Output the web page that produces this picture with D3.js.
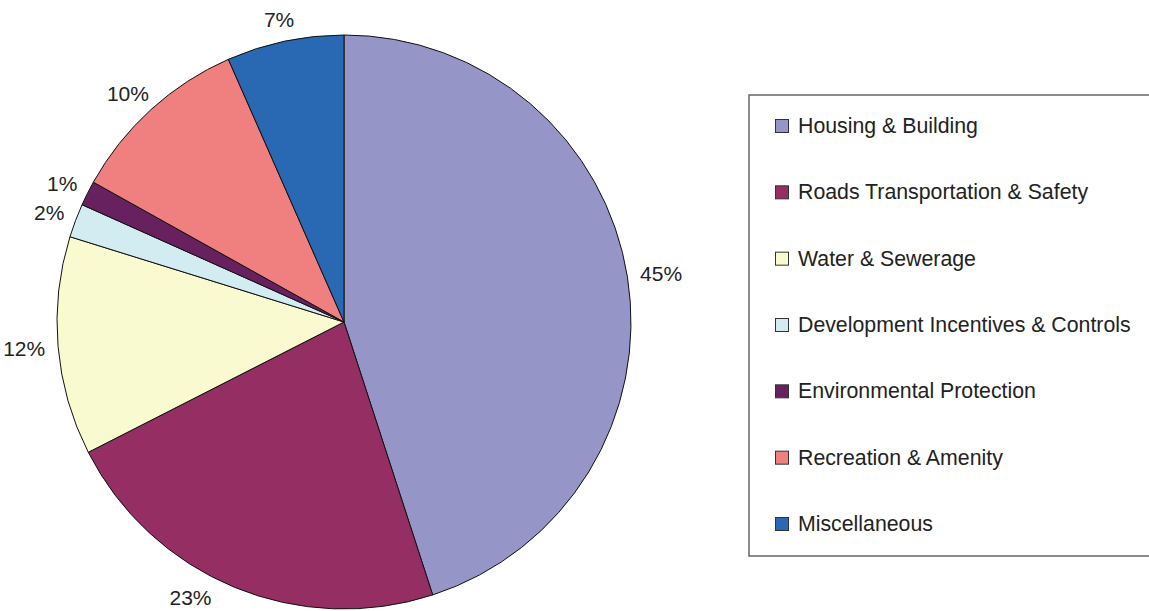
<!DOCTYPE html>
<html>
<head>
<meta charset="utf-8">
<script src="https://cdn.jsdelivr.net/npm/d3@7"></script>
<style>
  body { margin: 0; background: #fff; }
  svg text { font-family: "Liberation Sans", Arial, sans-serif; fill: #222; }
</style>
</head>
<body>
<div id="wrapper"></div>
<script>
// data (slice shares, in percent)
const categories = [
  "Housing & Building",
  "Roads Transportation & Safety",
  "Water & Sewerage",
  "Development Incentives & Controls",
  "Environmental Protection",
  "Recreation & Amenity",
  "Miscellaneous"
]
const shares = [45.0, 22.5, 12.3, 1.9, 1.4, 10.3, 6.6]
const labels = ["45%", "23%", "12%", "2%", "1%", "10%", "7%"]
const colors = ["#9595c8", "#952f63", "#fafad0", "#d3ecf2", "#66215e", "#f08080", "#2968b2"]

function drawPie() {
  const dimensions = { width: 1149, height: 611 }
  const center = { x: 344, y: 322 }
  const radius = 287

  const svg = d3.select("#wrapper")
    .append("svg")
      .attr("width", dimensions.width)
      .attr("height", dimensions.height)

  const data = categories.map((c, i) => ({
    name: c, value: shares[i], label: labels[i], color: colors[i]
  }))

  const pie = d3.pie()
    .value(d => d.value)
    .sort(null)

  const arcs = pie(data)

  const arc = d3.arc()
    .innerRadius(0)
    .outerRadius(radius)

  const bounds = svg.append("g")
    .attr("transform", `translate(${center.x},${center.y})`)

  bounds.selectAll("path")
    .data(arcs)
    .join("path")
      .attr("d", arc)
      .attr("fill", d => d.data.color)
      .attr("stroke", "#111")
      .attr("stroke-width", 1)

  // labels outside the pie, pushed out by half their box,
  // slid along the circle when they would fall off the bottom
  const labelR = 300
  const halfH = 9
  const maxY = dimensions.height - center.y - 14
  bounds.selectAll("text.lbl")
    .data(arcs)
    .join("text")
      .attr("class", "lbl")
      .attr("font-size", 21)
      .attr("text-anchor", "middle")
      .attr("dominant-baseline", "central")
      .text(d => d.data.label)
      .each(function(d) {
        const a = (d.startAngle + d.endAngle) / 2
        const w = this.getComputedTextLength()
        let x = Math.sin(a) * labelR + Math.sin(a) * w / 2
        let y = -Math.cos(a) * labelR - Math.cos(a) * halfH
        if (y > maxY) {
          y = maxY
          const ay = y + Math.cos(a) * halfH
          const ax = Math.sign(Math.sin(a)) * Math.sqrt(labelR * labelR - ay * ay)
          x = ax + Math.sin(a) * w
        }
        d3.select(this).attr("x", x).attr("y", y)
      })

  // legend
  const legend = svg.append("g")
    .attr("transform", "translate(749,95)")

  legend.append("rect")
    .attr("width", 420)
    .attr("height", 461)
    .attr("fill", "#fff")
    .attr("stroke", "#666")
    .attr("stroke-width", 1.5)

  const rowY = d3.scalePoint()
    .domain(categories)
    .range([31, 429])

  const rows = legend.selectAll("g.row")
    .data(data)
    .join("g")
      .attr("class", "row")
      .attr("transform", d => `translate(0,${rowY(d.name)})`)

  rows.append("rect")
    .attr("x", 26.5)
    .attr("y", -6.5)
    .attr("width", 13)
    .attr("height", 13)
    .attr("fill", d => d.color)
    .attr("stroke", "#333")
    .attr("stroke-width", 1)

  rows.append("text")
    .attr("x", 49)
    .attr("dominant-baseline", "central")
    .attr("font-size", 21.3)
    .text(d => d.name)
}
drawPie()
</script>
</body>
</html>
